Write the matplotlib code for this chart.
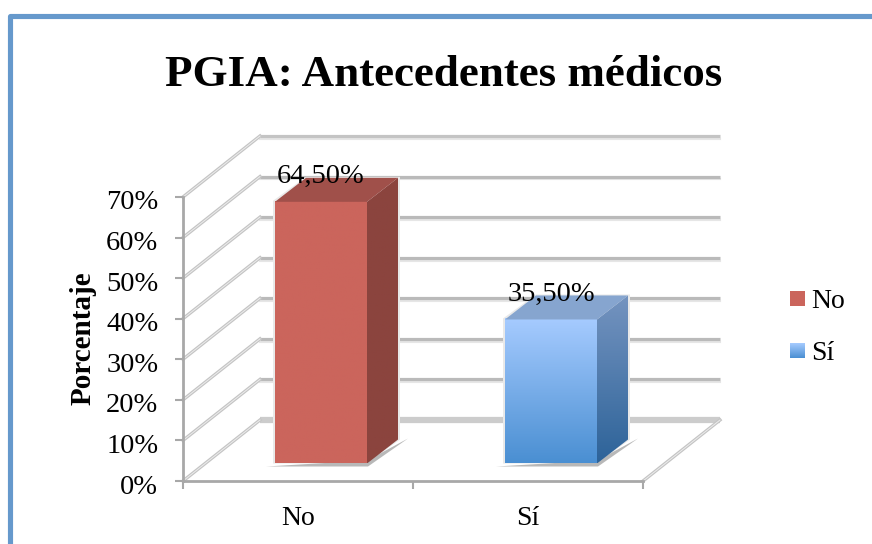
import numpy as np
import matplotlib
matplotlib.use('Agg')
import matplotlib.pyplot as plt
from matplotlib.colors import LinearSegmentedColormap
from matplotlib.lines import Line2D
from matplotlib.patches import Polygon
from matplotlib.transforms import ScaledTranslation

categories = ['No', 'Sí']
values = [64.5, 35.5]
value_labels = ['64,50%', '35,50%']
y_ticks = [0, 10, 20, 30, 40, 50, 60, 70]
y_tick_labels = ['0%', '10%', '20%', '30%', '40%', '50%', '60%', '70%']

W, H = 872, 544
plt.rcParams['font.family'] = ['Liberation Serif', 'DejaVu Serif']

fig = plt.figure(figsize=(W / 100, H / 100), dpi=100)

# outer blue frame, only left and top are in the picture
frame = Line2D([9.5 / W, 9.5 / W, 1.01], [-0.01, 1 - 15.5 / H, 1 - 15.5 / H],
               transform=fig.transFigure, color='#6699cc', lw=3.7, solid_joinstyle='round')
fig.add_artist(frame)

ax = fig.add_axes([183 / W, 1 - 481 / H, 460 / W, 284 / H])
ax.set_xlim(-0.5, 1.5)
ax.set_ylim(0, 70)
ax.patch.set_alpha(0)

# size of one pixel in data units
px = 2 / 460
py = 70 / 284
wall_dx = 77 * px     # depth of the chart floor
wall_dy = 61 * py
bar_shift_x = 23 * px  # bars stand a bit into the floor
bar_shift_y = 17.5 * py
bar_w = 92 * px
bar_dx = 31 * px      # depth of one bar
bar_dy = 24 * py

# walls
for t in y_ticks:
    lw = 4.5 if t == 0 else 2.3
    col = '#cccccc' if t == 0 else '#bababa'
    if t == 70:
        col = '#c4c4c4'
    ax.plot([-0.5 + wall_dx, 1.5 + wall_dx], [t + wall_dy, t + wall_dy], color=col, lw=lw,
            clip_on=False, zorder=1, solid_capstyle='butt')
    if t > 0:
        ax.plot([-0.5 + wall_dx, 1.5 + wall_dx], [t + wall_dy - 0.7, t + wall_dy - 0.7],
                color='#e6e6e6', lw=1.5, clip_on=False, zorder=0.9)
    ax.plot([-0.5, -0.5 + wall_dx], [t, t + wall_dy], color='#c4c4c4', lw=2.4,
            clip_on=False, zorder=1)
    ax.plot([-0.5, -0.5 + wall_dx], [t, t + wall_dy], color='#ececec', lw=0.7,
            clip_on=False, zorder=1.1)
ax.plot([1.5, 1.5 + wall_dx], [0, wall_dy], color='#c4c4c4', lw=2.4, clip_on=False, zorder=1)
ax.plot([1.5, 1.5 + wall_dx], [0, wall_dy], color='#ececec', lw=0.7, clip_on=False, zorder=1.1)

front_maps = [
    LinearSegmentedColormap.from_list('r', ['#cb655c', '#cb655c']),
    LinearSegmentedColormap.from_list('b', ['#a6cbff', '#4a8fd2']),
]
side_maps = [
    LinearSegmentedColormap.from_list('rs', ['#8b443e', '#8b443e']),
    LinearSegmentedColormap.from_list('bs', ['#7594c0', '#2d6399']),
]
top_colors = ['#a0504a', '#86a5cf']

grad = np.linspace(0, 1, 128).reshape(-1, 1)

for i, v in enumerate(values):
    x0 = i - bar_w / 2 + bar_shift_x
    x1 = x0 + bar_w
    y0 = bar_shift_y
    y1 = y0 + v

    # glow around the bar so the gridlines fade out
    ax.add_patch(Polygon([(x0 - 2 * px, y0), (x0 - 2 * px, y1 + 1 * py),
                          (x0 + bar_dx, y1 + bar_dy + 1 * py),
                          (x1 + bar_dx + 2 * px, y1 + bar_dy + 1 * py),
                          (x1 + bar_dx + 2 * px, y0 + bar_dy), (x1, y0)],
                         closed=True, facecolor='#e9e9e9', edgecolor='none',
                         clip_on=False, zorder=2))
    # floor shadow
    ax.add_patch(Polygon([(x0 - 9 * px, y0 - 3 * py), (x1 + 1 * px, y0 - 3 * py),
                          (x1 + bar_dx + 10 * px, y0 + bar_dy + 1 * py), (x1, y0 + 3 * py)],
                         closed=True, facecolor='#b8b8b8', edgecolor='none',
                         clip_on=False, zorder=2.5))

    ax.imshow(grad, cmap=front_maps[i], extent=(x0, x1, y0, y1), origin='upper', aspect='auto',
              zorder=3, clip_on=False)

    side = Polygon([(x1, y0), (x1, y1), (x1 + bar_dx, y1 + bar_dy), (x1 + bar_dx, y0 + bar_dy)],
                   closed=True, facecolor='none', edgecolor='none', transform=ax.transData)
    ax.add_patch(side)
    side_im = ax.imshow(grad, cmap=side_maps[i], origin='upper', aspect='auto', zorder=3,
                        extent=(x1, x1 + bar_dx, y0, y1 + bar_dy))
    side_im.set_clip_box(fig.bbox)
    side_im.set_clip_path(side)

    ax.add_patch(Polygon([(x0, y1), (x1, y1), (x1 + bar_dx, y1 + bar_dy), (x0 + bar_dx, y1 + bar_dy)],
                         closed=True, facecolor=top_colors[i], edgecolor='none', zorder=3,
                         clip_on=False))

    ax.text(i + bar_shift_x, y1 + 13 * py, value_labels[i], ha='center', va='bottom',
            fontsize=20.5, color='black', zorder=5, clip_on=False)

ax.set_xlim(-0.5, 1.5)
ax.set_ylim(0, 70)

# axes
for s in ['top', 'right']:
    ax.spines[s].set_visible(False)
for s in ['left', 'bottom']:
    ax.spines[s].set_color('#a8a8a8')
    ax.spines[s].set_linewidth(2)
    ax.spines[s].set_zorder(1.5)

ax.set_yticks(y_ticks)
ax.set_yticklabels(y_tick_labels, fontsize=20.5)
ax.set_xticks([-0.5, 0.5, 1.5])
ax.set_xticklabels(['', '', ''])
ax.set_xticks([0, 1], minor=True)
ax.set_xticklabels(categories, minor=True, fontsize=20)
ax.tick_params(axis='y', length=5.8, width=1.5, color='#a8a8a8', pad=12)
ax.tick_params(axis='x', which='major', length=6, width=1.5, color='#a8a8a8', direction='out')
ax.tick_params(axis='x', which='minor', length=0, pad=18)

shift = ScaledTranslation(0, -3 / 100, fig.dpi_scale_trans)
for lab in ax.get_yticklabels():
    lab.set_transform(lab.get_transform() + shift)

fig.text(83 / W, 1 - 338 / H, 'Porcentaje', rotation=90, ha='center', va='center',
         fontsize=21, fontweight='bold')
fig.text(444 / W, 1 - 75 / H, 'PGIA: Antecedentes médicos', ha='center', va='center',
         fontsize=32.4, fontweight='bold')

# legend
legend_y = [291, 343]
for i, lab in enumerate(categories):
    cax = fig.add_axes([790 / W, 1 - (legend_y[i] + 15) / H, 15 / W, 15 / H])
    cax.imshow(grad, cmap=front_maps[i], aspect='auto')
    cax.axis('off')
    fig.text(811 / W, 1 - (legend_y[i] + 11) / H, lab, ha='left', va='center', fontsize=20)

fig.savefig('out.png', dpi=100, facecolor='white')
